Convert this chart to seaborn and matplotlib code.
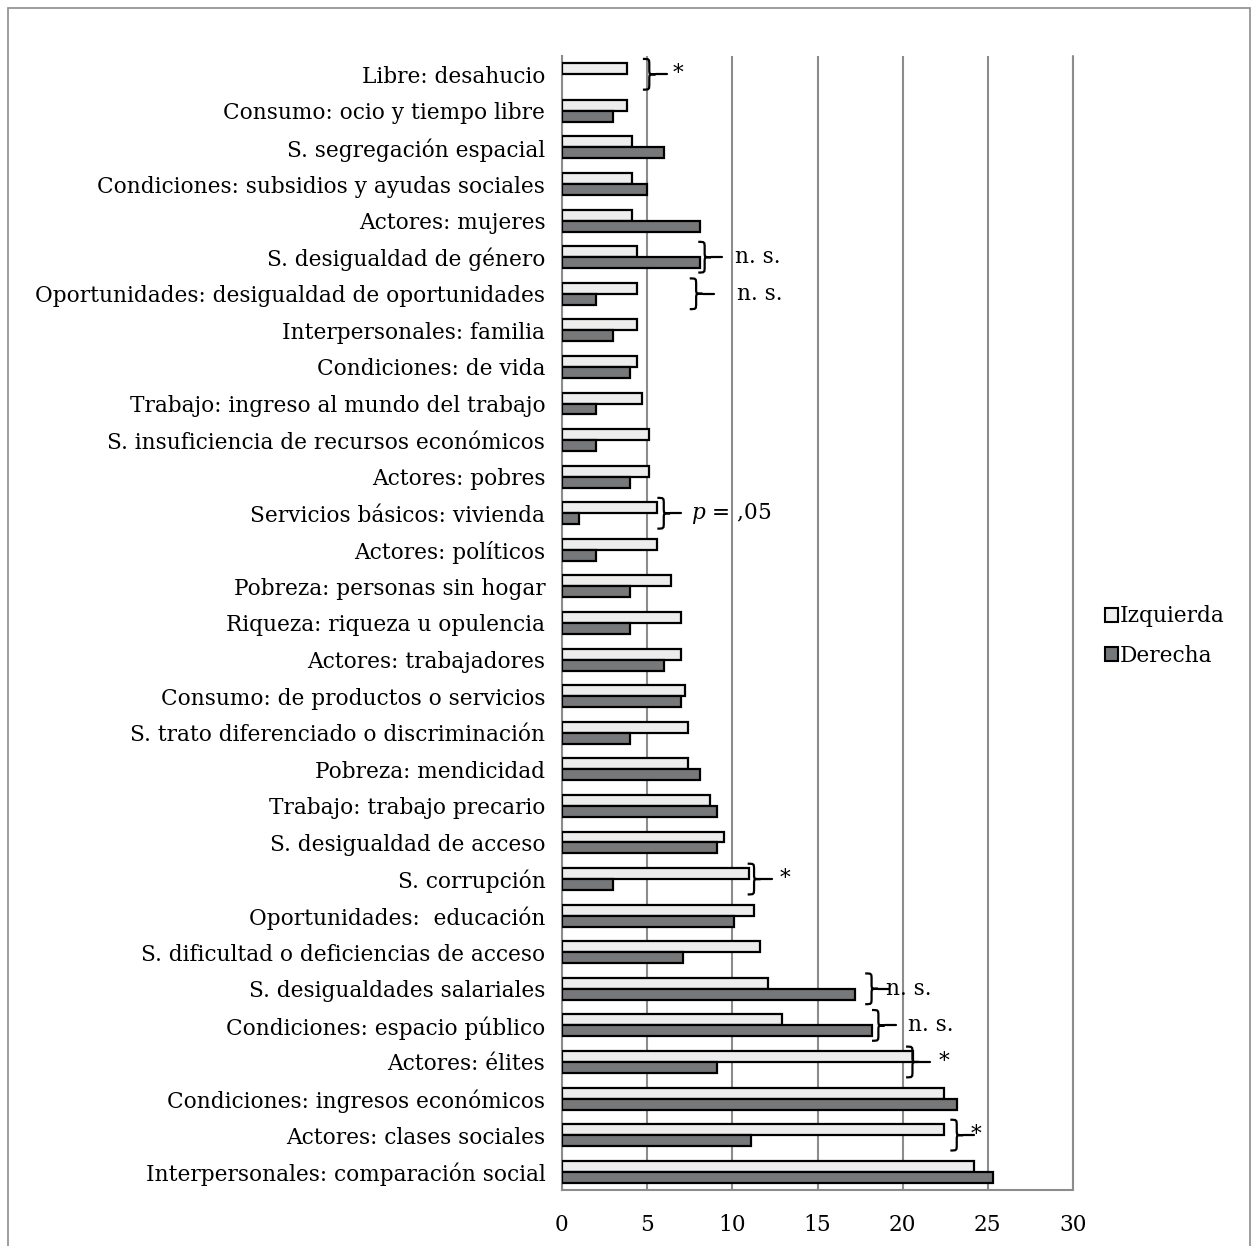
import numpy as np
import pandas as pd
import seaborn as sns
import matplotlib.pyplot as plt
from matplotlib.path import Path
from matplotlib.patches import PathPatch, Patch, Rectangle

categorias = ['Libre: desahucio', 'Consumo: ocio y tiempo libre', 'S. segregación espacial',
              'Condiciones: subsidios y ayudas sociales', 'Actores: mujeres', 'S. desigualdad de género',
              'Oportunidades: desigualdad de oportunidades', 'Interpersonales: familia',
              'Condiciones: de vida', 'Trabajo: ingreso al mundo del trabajo',
              'S. insuficiencia de recursos económicos', 'Actores: pobres', 'Servicios básicos: vivienda',
              'Actores: políticos', 'Pobreza: personas sin hogar', 'Riqueza: riqueza u opulencia',
              'Actores: trabajadores', 'Consumo: de productos o servicios',
              'S. trato diferenciado o discriminación', 'Pobreza: mendicidad', 'Trabajo: trabajo precario',
              'S. desigualdad de acceso', 'S. corrupción', 'Oportunidades:  educación',
              'S. dificultad o deficiencias de acceso', 'S. desigualdades salariales',
              'Condiciones: espacio público', 'Actores: élites', 'Condiciones: ingresos económicos',
              'Actores: clases sociales', 'Interpersonales: comparación social']
izquierda = [3.8, 3.8, 4.1, 4.1, 4.1, 4.4, 4.4, 4.4, 4.4, 4.7, 5.1, 5.1, 5.6, 5.6, 6.4, 7.0,
             7.0, 7.2, 7.4, 7.4, 8.7, 9.5, 11.0, 11.3, 11.6, 12.1, 12.9, 20.6, 22.4, 22.4, 24.2]
derecha = [None, 3.0, 6.0, 5.0, 8.1, 8.1, 2.0, 3.0, 4.0, 2.0, 2.0, 4.0, 1.0, 2.0, 4.0, 4.0,
           6.0, 7.0, 4.0, 8.1, 9.1, 9.1, 3.0, 10.1, 7.1, 17.2, 18.2, 9.1, 23.2, 11.1, 25.3]
grupos = ['Izquierda', 'Derecha']

# anotaciones de significación: (índice categoría, x de la llave, texto, x del texto)
anotaciones = [(0, 4.75, '*', 6.5), (5, 8.0, 'n. s.', 10.15), (6, 7.5, 'n. s.', 10.3),
               (12, 5.6, r'$\it{p}$ = ,05', 7.6), (22, 10.9, '*', 12.8), (25, 17.8, 'n. s.', 19.0),
               (26, 18.2, 'n. s.', 20.3), (27, 20.2, '*', 22.1), (29, 22.8, '*', 24.0)]

df = pd.DataFrame({'categoria': categorias * 2,
                   'grupo': ['Izquierda'] * len(categorias) + ['Derecha'] * len(categorias),
                   'valor': izquierda + derecha})
df['valor'] = pd.to_numeric(df['valor'])
df = df.dropna()

sns.set_style('white')
plt.rcParams['font.family'] = ['DejaVu Serif']
plt.rcParams['mathtext.fontset'] = 'dejavuserif'
plt.rcParams['text.color'] = 'black'
plt.rcParams['xtick.color'] = 'black'
plt.rcParams['ytick.color'] = 'black'

fig = plt.figure(figsize=(12.54, 12.46), dpi=100)
ax = fig.add_axes([562 / 1254, 1 - 1190 / 1246, (1073 - 562) / 1254, (1190 - 56) / 1246])

colores = {'Izquierda': '#ededed', 'Derecha': '#75787b'}
sns.barplot(data=df, y='categoria', x='valor', hue='grupo', order=categorias, hue_order=grupos,
            palette=colores, orient='h', width=0.6, edgecolor='black', linewidth=1.6,
            errorbar=None, legend=False, ax=ax, zorder=3)

ax.set_xlim(0, 30)
ax.set_ylim(len(categorias) - 0.5, -0.5)
ax.set_xticks(np.arange(0, 31, 5))
ax.set_xlabel('')
ax.set_ylabel('')
ax.grid(axis='x', color='#8c8c8c', linewidth=1.5, zorder=0)
ax.grid(axis='y', visible=False)
ax.axvline(30, color='#8c8c8c', linewidth=1.5, clip_on=False, zorder=0)
for s in ['top', 'right']:
    ax.spines[s].set_visible(False)
for s in ['left', 'bottom']:
    ax.spines[s].set_color('#8c8c8c')
    ax.spines[s].set_linewidth(1.5)
ax.set_yticks(np.arange(-0.5, len(categorias), 1), minor=True)
ax.tick_params(axis='y', which='major', length=0, pad=12, labelsize=15.6, labelcolor='black')
ax.tick_params(axis='y', which='minor', length=7, width=1.5, color='#8c8c8c', direction='out')
ax.tick_params(axis='x', which='major', length=8, width=1.5, color='#8c8c8c', direction='out',
               pad=9, labelsize=15.6, labelcolor='black')

def llave(ax, x0, yc, h=0.42, w=0.75, t=0.65):
    m = x0 + w / 2
    verts = [(x0, yc - h), (m, yc - h), (m, yc - h), (m, yc - h * 0.6),
             (m, yc - h * 0.3),
             (m, yc), (m, yc), (x0 + w, yc),
             (m, yc), (m, yc), (m, yc + h * 0.3),
             (m, yc + h * 0.6),
             (m, yc + h), (m, yc + h), (x0, yc + h)]
    codes = [Path.MOVETO, Path.CURVE4, Path.CURVE4, Path.CURVE4, Path.LINETO,
             Path.CURVE4, Path.CURVE4, Path.CURVE4,
             Path.CURVE4, Path.CURVE4, Path.CURVE4, Path.LINETO,
             Path.CURVE4, Path.CURVE4, Path.CURVE4]
    ax.add_patch(PathPatch(Path(verts, codes), fill=False, lw=1.6, color='black', zorder=5, clip_on=False))
    ax.plot([x0 + w, x0 + w + t], [yc, yc], color='black', lw=1.6, zorder=5)

for i, xb, txt, xt in anotaciones:
    llave(ax, xb, i)
    ax.text(xt, i, txt, ha='left', va='center', fontsize=15.6, zorder=6)

handles = [Patch(facecolor=colores[g], edgecolor='black', linewidth=1.5) for g in grupos]
fig.legend(handles, grupos, loc='center left', bbox_to_anchor=(1085 / 1254, 1 - 636 / 1246),
           frameon=False, handlelength=0.6, handleheight=0.6, handletextpad=0.1,
           labelspacing=0.8, fontsize=15.6)

fig.patches.append(Rectangle((8 / 1254, -0.01), (1250 - 8) / 1254, 1.01 - 8 / 1246,
                             transform=fig.transFigure, fill=False, edgecolor='#8c8c8c', linewidth=1.2))

fig.savefig('out.png', dpi=100)
